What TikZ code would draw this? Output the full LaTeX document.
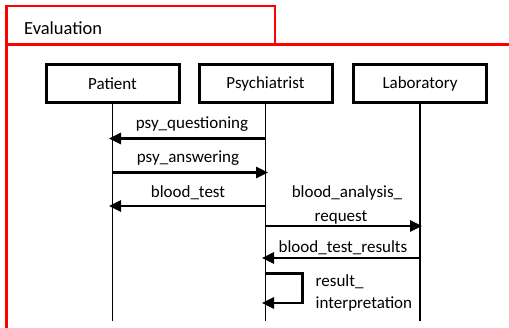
\documentclass[tikz,border=0pt]{standalone}
\usepackage{fontspec}
\setmainfont{Carlito}
\usetikzlibrary{arrows.meta}
\begin{document}
\begin{tikzpicture}[x=1pt,y=-1pt,
  frameline/.style={draw=red,line width=2.4pt},
  actor/.style={draw,line width=3pt,minimum width=133pt,minimum height=38pt,inner sep=0pt,font=\fontsize{17}{18}\selectfont},
  lifeline/.style={line width=1.1pt},
  msg/.style={line width=2.7pt,-{Triangle[length=12pt,width=11pt]}},
  lbl/.style={font=\fontsize{17}{18}\selectfont,inner sep=0pt,anchor=base},
]
\useasboundingbox (0,0) rectangle (509,328);
% frame with title tab
\draw[frameline] (6.5,328) -- (6.5,6) -- (275,6) -- (275,44.5);
\draw[frameline] (6.5,44.5) -- (509,44.5);
\node[font=\fontsize{18.5}{20}\selectfont,anchor=base west,inner sep=0pt] (title) at (24,35) {Evaluation};
% participants
\node[actor] (pat) at (112.5,83.5) {Patient};
\node[actor] (psy) at (265.5,83.5) {Psychiatrist};
\node[actor] (lab) at (420,83.5) {Laboratory};
% lifelines
\coordinate (patend) at (112.5,321);
\coordinate (psyend) at (265.5,321);
\coordinate (labend) at (420,321);
\draw[lifeline] (pat.south) -- (patend);
\draw[lifeline] (psy.south) -- (psyend);
\draw[lifeline] (lab.south) -- (labend);
% message anchors on lifelines
\coordinate (m1s) at (265.5,138.5); \coordinate (m1e) at (109,138.5);
\coordinate (m2s) at (112.5,172.5); \coordinate (m2e) at (268,172.5);
\coordinate (m3s) at (265.5,206);   \coordinate (m3e) at (109,206);
\coordinate (m4s) at (265.5,226);   \coordinate (m4e) at (422,226);
\coordinate (m5s) at (420,258);     \coordinate (m5e) at (262,258);
\coordinate (m6s) at (265.5,273.5); \coordinate (m6a) at (302.5,273.5);
\coordinate (m6b) at (302.5,303);   \coordinate (m6e) at (262,303);
% messages
\draw[msg] (m1s) -- (m1e);
\draw[msg] (m2s) -- (m2e);
\draw[msg] (m3s) -- (m3e);
\draw[msg] (m4s) -- (m4e);
\draw[msg] (m5s) -- (m5e);
\draw[msg] (m6s) -- (m6a) -- (m6b) -- (m6e);
% labels
\node[lbl] (l1) at (192,128.5) {psy\_questioning};
\node[lbl] (l2) at (188,162.5) {psy\_answering};
\node[lbl] (l3) at (188,197.5) {blood\_test};
\node[lbl] (l4a) at (347,197.5) {blood\_analysis\_};
\node[lbl] (l4b) at (341,221.5) {request};
\node[lbl] (l5) at (343,252.5) {blood\_test\_results};
\node[lbl,anchor=base west] (l6a) at (315.5,286.5) {result\_};
\node[lbl,anchor=base west] (l6b) at (315.5,308.5) {interpretation};
\end{tikzpicture}
\end{document}
